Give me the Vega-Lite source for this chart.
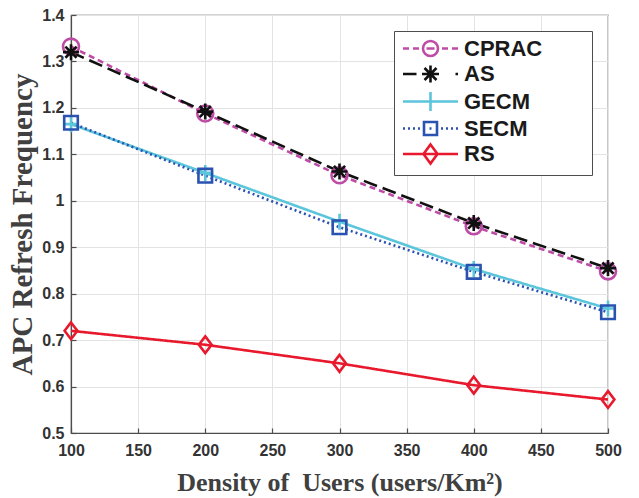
{
  "$schema": "https://vega.github.io/schema/vega-lite/v6.json",
  "width": 537,
  "height": 418,
  "autosize": {"type": "none"},
  "padding": {"left": 71, "top": 15, "right": 31, "bottom": 65},
  "background": "white",
  "config": {
    "view": {"stroke": "#4d4d4d", "strokeWidth": 1.2},
    "axis": {
      "domainColor": "#4d4d4d",
      "domainWidth": 1.2,
      "gridColor": "#e3e3e3",
      "gridWidth": 1,
      "tickColor": "#4d4d4d",
      "tickSize": -5,
      "tickWidth": 1.2,
      "labelFlush": false,
      "labelFont": "Liberation Sans",
      "labelFontWeight": "bold",
      "labelFontSize": 16,
      "labelColor": "#333333",
      "titleFont": "Liberation Serif",
      "titleFontWeight": "bold",
      "titleColor": "#404040"
    },
    "legend": {
      "labelFont": "Liberation Sans",
      "labelFontWeight": "bold",
      "labelFontSize": 22,
      "labelColor": "#1a1a1a",
      "labelLimit": 400
    }
  },
  "data": {
    "values": [
      {"x": 100, "series": "CPRAC", "y": 1.332},
      {"x": 200, "series": "CPRAC", "y": 1.188},
      {"x": 300, "series": "CPRAC", "y": 1.055},
      {"x": 400, "series": "CPRAC", "y": 0.945},
      {"x": 500, "series": "CPRAC", "y": 0.848},
      {"x": 100, "series": "AS", "y": 1.320},
      {"x": 200, "series": "AS", "y": 1.192},
      {"x": 300, "series": "AS", "y": 1.063},
      {"x": 400, "series": "AS", "y": 0.952},
      {"x": 500, "series": "AS", "y": 0.855},
      {"x": 100, "series": "GECM", "y": 1.165},
      {"x": 200, "series": "GECM", "y": 1.060},
      {"x": 300, "series": "GECM", "y": 0.955},
      {"x": 400, "series": "GECM", "y": 0.853},
      {"x": 500, "series": "GECM", "y": 0.768},
      {"x": 100, "series": "SECM", "y": 1.168},
      {"x": 200, "series": "SECM", "y": 1.054},
      {"x": 300, "series": "SECM", "y": 0.943},
      {"x": 400, "series": "SECM", "y": 0.847},
      {"x": 500, "series": "SECM", "y": 0.760},
      {"x": 100, "series": "RS", "y": 0.720},
      {"x": 200, "series": "RS", "y": 0.690},
      {"x": 300, "series": "RS", "y": 0.650},
      {"x": 400, "series": "RS", "y": 0.603},
      {"x": 500, "series": "RS", "y": 0.572}
    ]
  },
  "encoding": {
    "x": {
      "field": "x", "type": "quantitative",
      "scale": {"domain": [100, 500], "nice": false, "zero": false},
      "axis": {"values": [100, 150, 200, 250, 300, 350, 400, 450, 500], "format": "d", "title": "Density of\u00a0 Users (users/Km²)", "titleFontSize": 26, "labelPadding": 14, "titlePadding": 11}
    },
    "y": {
      "field": "y", "type": "quantitative",
      "scale": {"domain": [0.5, 1.4], "nice": false, "zero": false},
      "axis": {"values": [0.5, 0.6, 0.7, 0.8, 0.9, 1.0, 1.1, 1.2, 1.3, 1.4], "format": ".2~f", "title": "APC Refresh Frequency", "titleFontSize": 29, "labelPadding": 12, "titlePadding": 4}
    }
  },
  "layer": [
    {
      "mark": {"type": "line", "strokeWidth": 2.6},
      "encoding": {
        "color": {
          "field": "series", "type": "nominal",
          "scale": {"domain": ["CPRAC", "AS", "GECM", "SECM", "RS"], "range": ["#BE4BA5", "#111111", "#5BC5DB", "#2A52B0", "#E8192C"]},
          "legend": null
        },
        "strokeDash": {
          "field": "series", "type": "nominal",
          "scale": {"domain": ["CPRAC", "AS", "GECM", "SECM", "RS"], "range": [[6, 4], [14, 6], [1, 0], [2, 3], [1, 0]]},
          "legend": null
        }
      }
    },
    {
      "mark": {"type": "point", "filled": false, "strokeWidth": 2.6, "size": 256, "opacity": 1},
      "encoding": {
        "color": {
          "field": "series", "type": "nominal",
          "scale": {"domain": ["CPRAC", "AS", "GECM", "SECM", "RS"], "range": ["#BE4BA5", "#111111", "#5BC5DB", "#2A52B0", "#E8192C"]},
          "legend": null
        },
        "shape": {
          "field": "series", "type": "nominal",
          "scale": {"domain": ["CPRAC", "AS", "GECM", "SECM", "RS"], "range": ["circle", "M-1,0H1M0,-1V1M-0.7,-0.7L0.7,0.7M-0.7,0.7L0.7,-0.7", "M-1,0H1M0,-1V1", "M-0.85,-0.85H0.85V0.85H-0.85Z", "M0,-1.05L0.8,0L0,1.05L-0.8,0Z"]},
          "legend": null
        }
      }
    },
    {
      "mark": {"type": "point", "filled": false, "strokeWidth": 2.6, "size": 400, "opacity": 0},
      "encoding": {
        "color": {
          "field": "series", "type": "nominal",
          "scale": {"domain": ["CPRAC", "AS", "GECM", "SECM", "RS"], "range": ["#BE4BA5", "#111111", "#5BC5DB", "#2A52B0", "#E8192C"]},
          "legend": {
            "title": null,
            "orient": "top-right",
            "offset": 16,
            "padding": 6,
            "strokeColor": "#4d4d4d",
            "fillColor": "white",
            "symbolOpacity": 1,
            "symbolSize": 400,
            "symbolStrokeWidth": 2.6,
            "symbolOffset": 19,
            "labelOffset": 22,
            "rowPadding": -2.5,
            "labelExpr": "datum.label + '\u00a0\u00a0\u00a0\u00a0\u00a0\u00a0\u00a0\u200b'"
          }
        },
        "shape": {
          "field": "series", "type": "nominal",
          "scale": {"domain": ["CPRAC", "AS", "GECM", "SECM", "RS"], "range": [
            "M-2.75,0H-2.15M-1.75,0H-1.15M-0.4,0H0.4M1.15,0H1.75M2.15,0H2.75M0.75,0A0.75,0.75,0,1,1,-0.75,0A0.75,0.75,0,1,1,0.75,0",
            "M-2.75,0H-1.4M2.5,0H2.75M-0.85,0H0.85M0,-0.85V0.85M-0.6,-0.6L0.6,0.6M-0.6,0.6L0.6,-0.6",
            "M-2.75,0H2.75M0,-0.95V0.95",
            "M-2.75,0H-2.55M-2.25,0H-2.05M-1.75,0H-1.55M-1.25,0H-1.05M-0.1,0H0.1M1.05,0H1.25M1.55,0H1.75M2.05,0H2.25M2.55,0H2.75M-0.65,-0.65H0.65V0.65H-0.65Z",
            "M-2.75,0H2.75M0,-0.95L0.7,0L0,0.95L-0.7,0Z"
          ]},
          "legend": {
            "title": null,
            "orient": "top-right",
            "offset": 16,
            "padding": 6,
            "strokeColor": "#4d4d4d",
            "fillColor": "white",
            "symbolOpacity": 1,
            "symbolSize": 400,
            "symbolStrokeWidth": 2.6,
            "symbolOffset": 19,
            "labelOffset": 22,
            "rowPadding": -2.5,
            "labelExpr": "datum.label + '\u00a0\u00a0\u00a0\u00a0\u00a0\u00a0\u00a0\u200b'"
          }
        }
      }
    }
  ],
  "resolve": {"scale": {"shape": "independent", "color": "independent", "strokeDash": "independent"}}
}
